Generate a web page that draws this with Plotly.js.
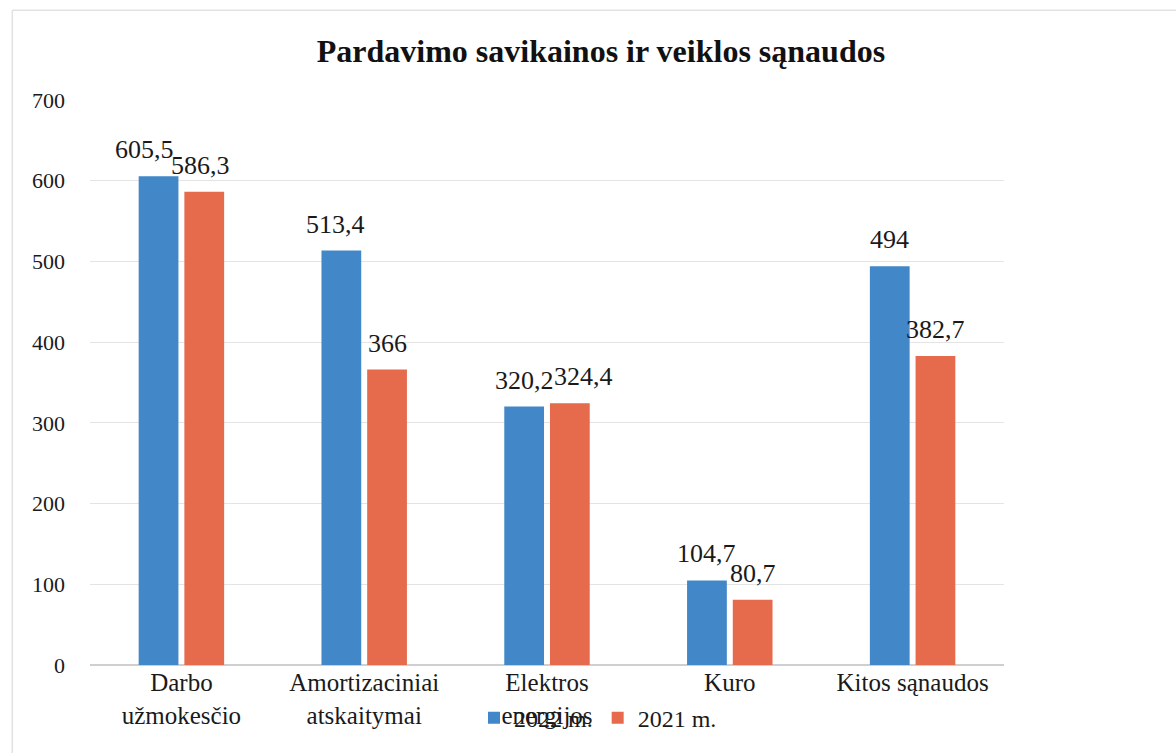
<!DOCTYPE html>
<html>
<head>
<meta charset="utf-8">
<script src="https://cdn.plot.ly/plotly-3.0.1.min.js"></script>
<style>html,body{margin:0;padding:0;background:#fff;}#chart{width:1176px;height:753px;}</style>
</head>
<body>
<div id="chart"></div>
<script>
const categories = ["Darbo<br>užmokesčio", "Amortizaciniai<br>atskaitymai", "Elektros<br>energijos", "Kuro", "Kitos sąnaudos"];
const values2022 = [605.5, 513.4, 320.2, 104.7, 494];
const values2021 = [586.3, 366, 324.4, 80.7, 382.7];
const yTicks = [0, 100, 200, 300, 400, 500, 600, 700];
// label nudges (px) used where labels would collide
const nudge2022 = [-14, -6, 0, 0, 0];
const nudge2021 = [-4, 0, 14, 0, 0];

const fmt = v => String(v).replace('.', ',');
const serif = "Liberation Serif, Times New Roman, serif";
const blue = '#4287c8', orange = '#e66a4c';

const traces = [
  {type: 'bar', name: '2022 m.', x: categories, y: values2022, marker: {color: blue}, hoverinfo: 'none'},
  {type: 'bar', name: '2021 m.', x: categories, y: values2021, marker: {color: orange}, hoverinfo: 'none'}
];

const barOffset = 22.9;
const annotations = [];
categories.forEach((c, i) => {
  annotations.push({x: c, y: values2022[i], xref: 'x', yref: 'y', text: fmt(values2022[i]), showarrow: false,
    xanchor: 'center', yanchor: 'bottom', xshift: -barOffset + nudge2022[i], yshift: 10,
    font: {family: serif, size: 26, color: '#1a1a1a'}});
  annotations.push({x: c, y: values2021[i], xref: 'x', yref: 'y', text: fmt(values2021[i]), showarrow: false,
    xanchor: 'center', yanchor: 'bottom', xshift: barOffset + nudge2021[i], yshift: 10,
    font: {family: serif, size: 26, color: '#1a1a1a'}});
});

const layout = {
  width: 1176, height: 753,
  paper_bgcolor: '#fff', plot_bgcolor: '#fff',
  margin: {l: 90, r: 172, t: 100, b: 88},
  font: {family: serif, size: 20, color: '#1a1a1a'},
  title: {text: '<b>Pardavimo savikainos ir veiklos sąnaudos</b>', font: {family: serif, size: 32, color: '#111'},
          x: 0.511, xref: 'container', xanchor: 'center', y: 0.933, yref: 'container', yanchor: 'middle'},
  barmode: 'group', bargap: 0.5, bargroupgap: 0.13,
  xaxis: {type: 'category', tickfont: {family: serif, size: 25, color: '#1a1a1a'}, showgrid: false,
          showline: false, ticks: '', automargin: false},
  yaxis: {range: [0, 700], tickvals: yTicks, ticktext: yTicks.map(String), gridcolor: '#e4e4e4', gridwidth: 1,
          zeroline: true, zerolinecolor: '#cfcfcf', zerolinewidth: 1.5, ticklabelstandoff: 24,
          tickfont: {family: serif, size: 22, color: '#1a1a1a'}, ticks: '', ticklen: 0, automargin: false},
  showlegend: true,
  legend: {orientation: 'h', x: 0.5558, xanchor: 'center', y: -0.094, yanchor: 'middle',
           font: {family: serif, size: 24, color: '#1a1a1a'}, bgcolor: 'rgba(0,0,0,0)', traceorder: 'normal'},
  annotations: annotations,
  shapes: [
    {type: 'line', xref: 'paper', yref: 'paper', x0: -0.085, x1: 1.2, y0: 1.159, y1: 1.159,
     line: {color: '#e2e2e2', width: 1.5}},
    {type: 'line', xref: 'paper', yref: 'paper', x0: -0.085, x1: -0.085, y0: 1.159, y1: -0.2,
     line: {color: '#e2e2e2', width: 1.5}}
  ]
};

Plotly.newPlot('chart', traces, layout, {displayModeBar: false, staticPlot: true});
</script>
</body>
</html>
